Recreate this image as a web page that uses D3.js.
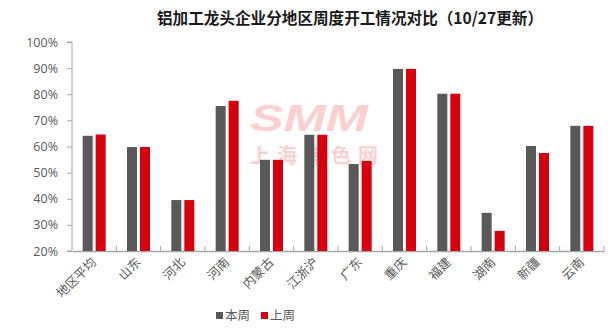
<!DOCTYPE html>
<html>
<head>
<meta charset="utf-8">
<script src="https://cdn.jsdelivr.net/npm/d3@7"></script>
<style>
  html, body { margin: 0; padding: 0; background: #fff; }
  svg { display: block; font-family: "Microsoft YaHei", "Noto Sans CJK SC", sans-serif; }
</style>
</head>
<body>
<svg id="chart" width="613" height="333"></svg>
<script>
// Regional weekly operating rates of leading aluminium processors
const categories = ["地区平均", "山东", "河北", "河南", "内蒙古", "江浙沪", "广东", "重庆", "福建", "湖南", "新疆", "云南"];
const thisWeek = [0.641, 0.598, 0.395, 0.755, 0.549, 0.645, 0.533, 0.897, 0.802, 0.346, 0.602, 0.679];
const lastWeek = [0.646, 0.598, 0.395, 0.775, 0.549, 0.645, 0.545, 0.897, 0.802, 0.277, 0.575, 0.679];
const seriesNames = ["本周", "上周"];
const seriesColors = ["#595959", "#d7000f"];
const yTicks = [0.2, 0.3, 0.4, 0.5, 0.6, 0.7, 0.8, 0.9, 1.0];

const svg = d3.select("#chart");
const plotLeft = 72, plotRight = 604, plotTop = 42, plotBottom = 251;

const x = d3.scaleBand().domain(categories).range([plotLeft, plotRight]);
const y = d3.scaleLinear().domain([0.2, 1.0]).range([plotBottom, plotTop]);

// Title
svg.append("text")
  .attr("x", 350).attr("y", 24)
  .attr("text-anchor", "middle")
  .attr("font-size", 16).attr("font-weight", "bold")
  .attr("fill", "#1a1a1a")
  .attr("textLength", 386).attr("lengthAdjust", "spacingAndGlyphs")
  .text("铝加工龙头企业分地区周度开工情况对比（10/27更新）");

// Watermark
const wm = svg.append("g").attr("fill", "#fdd0d0").attr("text-anchor", "middle");
wm.append("text")
  .attr("x", 309).attr("y", 131)
  .attr("font-size", 37).attr("font-weight", 900).attr("font-style", "italic")
  .attr("font-family", "'Liberation Sans', sans-serif")
  .attr("textLength", 118).attr("lengthAdjust", "spacingAndGlyphs")
  .text("SMM");
wm.append("text")
  .attr("x", 314).attr("y", 162.5)
  .attr("font-size", 20).attr("font-weight", "bold")
  .attr("textLength", 128).attr("lengthAdjust", "spacing")
  .text("上海有色网");

// Y axis
const yAxis = svg.append("g")
  .attr("transform", `translate(${plotLeft},0)`)
  .call(d3.axisLeft(y).tickValues(yTicks).tickFormat(d3.format(".0%")).tickSize(5).tickPadding(9));
yAxis.select(".domain").attr("stroke", "#a6a6a6").attr("d", `M-5,${plotTop}H0V${plotBottom}H-5`);
yAxis.selectAll(".tick line").attr("stroke", "#a6a6a6");
yAxis.selectAll(".tick text").attr("fill", "#595959").attr("font-size", 12.5)
  .attr("font-family", "'Open Sans', 'DejaVu Sans', sans-serif");

// X axis
const xAxis = svg.append("g")
  .attr("transform", `translate(0,${plotBottom})`)
  .call(d3.axisBottom(x).tickSize(0).tickFormat(""));
xAxis.select(".domain").attr("stroke", "#a6a6a6").attr("stroke-width", 1.5);
// category separators
svg.append("g").selectAll("line")
  .data(categories)
  .join("line")
  .attr("x1", d => x(d) + x.bandwidth())
  .attr("x2", d => x(d) + x.bandwidth())
  .attr("y1", plotBottom).attr("y2", plotBottom - 5)
  .attr("stroke", "#a6a6a6");

// Bars
const barW = 10, gap = 3;
const series = [thisWeek, lastWeek];
series.forEach((vals, s) => {
  svg.append("g").selectAll("rect")
    .data(vals)
    .join("rect")
    .attr("x", (d, i) => x(categories[i]) + x.bandwidth() / 2 - barW - gap / 2 + s * (barW + gap))
    .attr("width", barW)
    .attr("y", d => y(d))
    .attr("height", d => plotBottom - y(d))
    .attr("fill", seriesColors[s]);
});

// Rotated category labels
svg.append("g").selectAll("text")
  .data(categories)
  .join("text")
  .attr("transform", d => `translate(${x(d) + x.bandwidth() / 2 + 3},${plotBottom + 12}) rotate(-45)`)
  .attr("text-anchor", "end")
  .attr("font-size", 12.5)
  .attr("fill", "#595959")
  .text(d => d);

// Legend
const legend = svg.append("g").attr("transform", "translate(216,315)");
seriesNames.forEach((name, i) => {
  const g = legend.append("g").attr("transform", `translate(${i * 45},0)`);
  g.append("rect").attr("x", 0).attr("y", -3).attr("width", 7).attr("height", 7).attr("fill", seriesColors[i]);
  g.append("text").attr("x", 9).attr("y", 5).attr("font-size", 12.5).attr("fill", "#595959").text(name);
});
</script>
</body>
</html>
